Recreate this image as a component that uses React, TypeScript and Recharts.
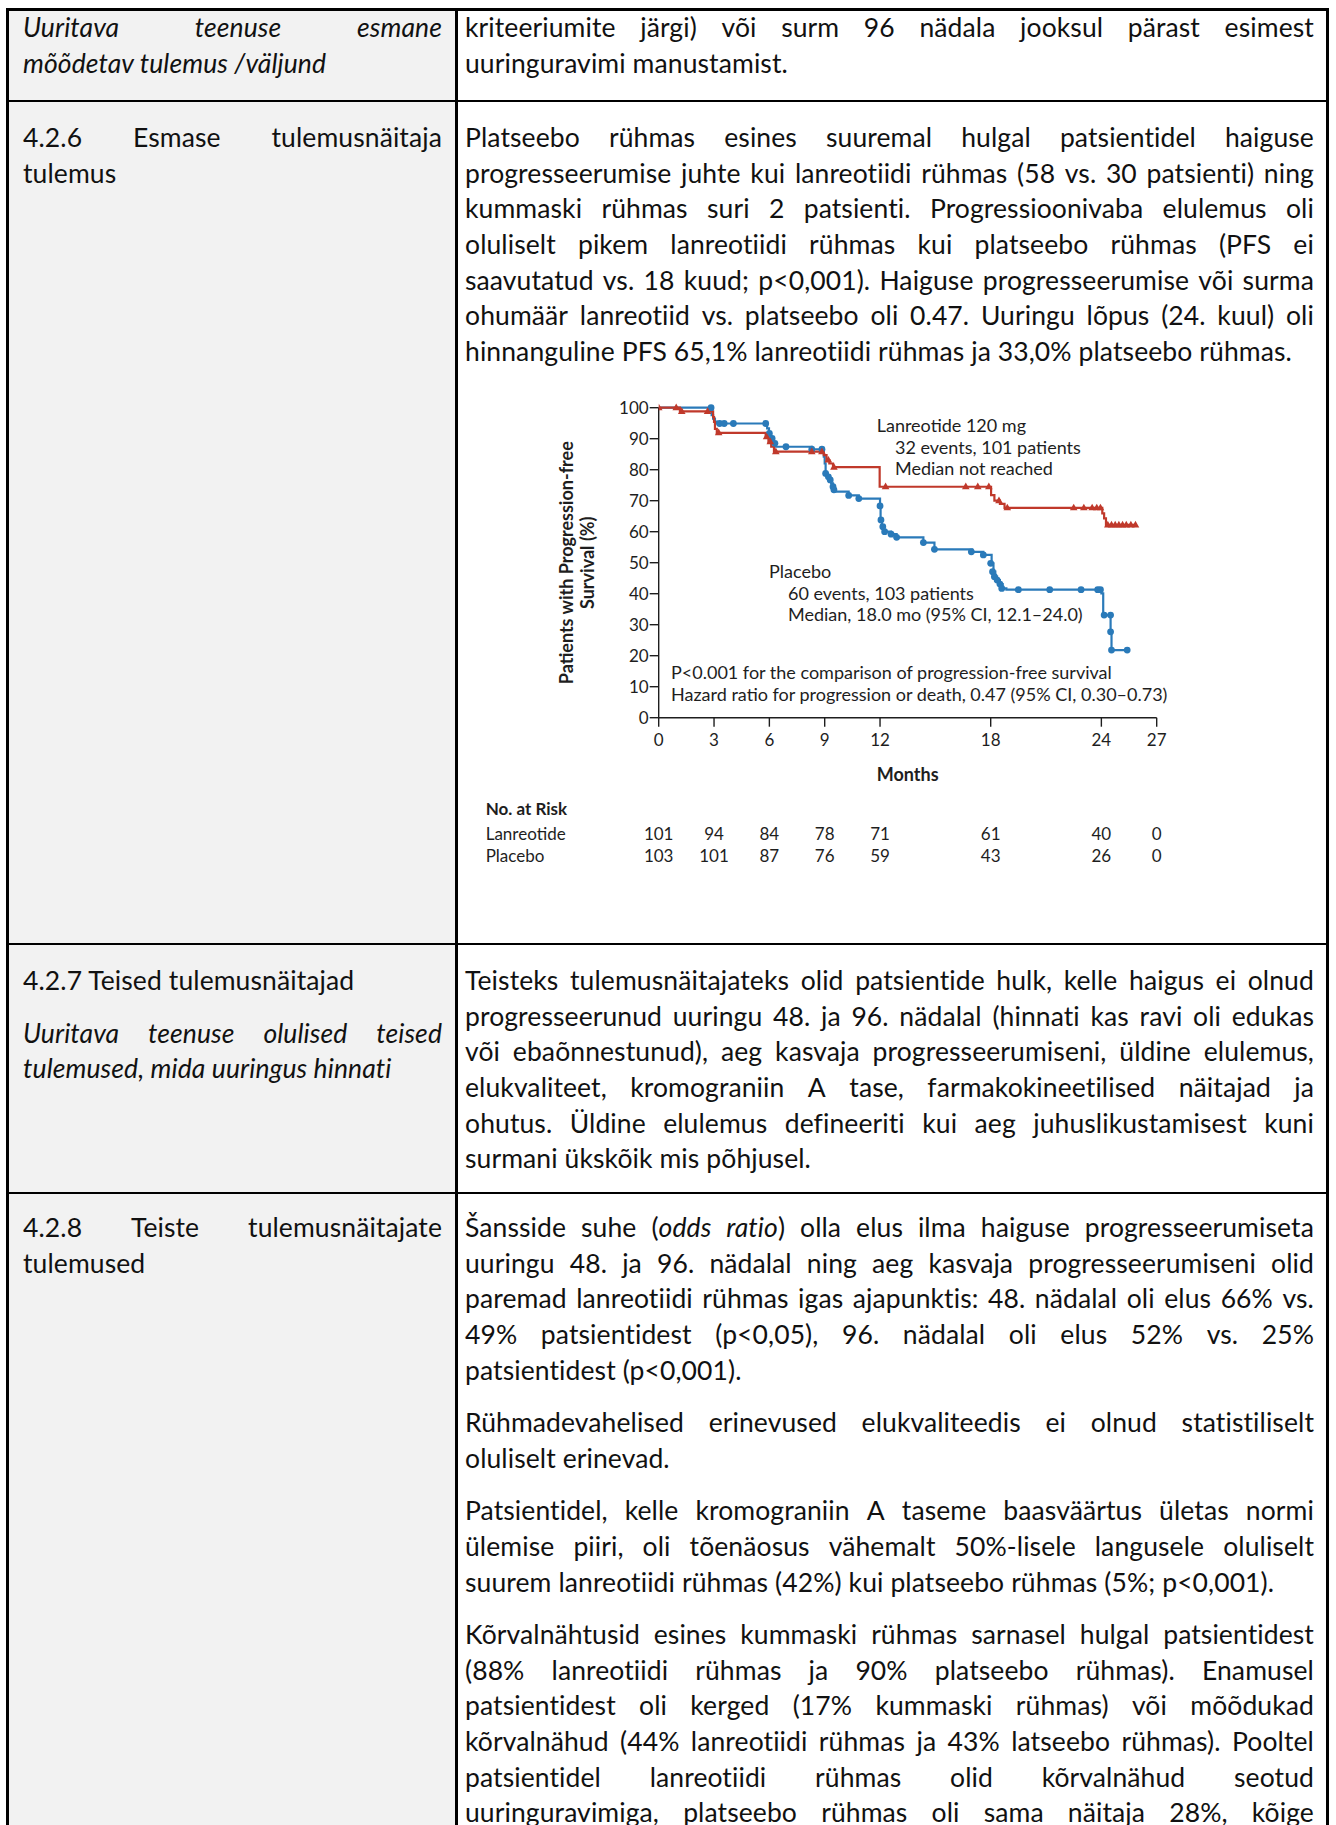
import React from 'react';
import { ComposedChart, Line, Scatter, XAxis, YAxis } from 'recharts';

// ---- chart data ----
const monthTicks = [0, 3, 6, 9, 12, 18, 24, 27];
const pctTicks = [0, 10, 20, 30, 40, 50, 60, 70, 80, 90, 100];
const lanRisk = [101, 94, 84, 78, 71, 61, 40, 0];
const plaRisk = [103, 101, 87, 76, 59, 43, 26, 0];

const lanSteps = [
  { t: 0, s: 100 }, { t: 1.15, s: 98.8 }, { t: 2.95, s: 97.0 }, { t: 3.0, s: 95.4 },
  { t: 3.05, s: 93.2 }, { t: 3.15, s: 91.9 }, { t: 5.8, s: 90.6 }, { t: 5.95, s: 89.0 },
  { t: 6.1, s: 87.4 }, { t: 6.25, s: 85.8 }, { t: 8.95, s: 84.7 }, { t: 9.1, s: 83.1 },
  { t: 9.25, s: 82.0 }, { t: 9.45, s: 80.8 }, { t: 11.98, s: 74.5 }, { t: 18.02, s: 71.8 },
  { t: 18.2, s: 70.0 }, { t: 18.5, s: 69.0 }, { t: 18.75, s: 67.7 }, { t: 24.05, s: 65.9 },
  { t: 24.15, s: 64.3 }, { t: 24.25, s: 62.2 }, { t: 25.9, s: 62.2 },
];

const plaSteps = [
  { t: 0, s: 100 }, { t: 2.87, s: 97.6 }, { t: 2.95, s: 96.5 }, { t: 3.05, s: 95.5 },
  { t: 3.15, s: 94.9 }, { t: 5.88, s: 93.3 }, { t: 5.98, s: 91.7 }, { t: 6.08, s: 90.1 },
  { t: 6.2, s: 88.5 }, { t: 6.35, s: 87.4 }, { t: 8.3, s: 86.6 }, { t: 8.95, s: 84.2 },
  { t: 9.0, s: 82.0 }, { t: 9.05, s: 78.8 }, { t: 9.15, s: 77.7 }, { t: 9.25, s: 76.7 },
  { t: 9.35, s: 75.6 }, { t: 9.45, s: 74.5 }, { t: 9.55, s: 72.9 }, { t: 10.3, s: 71.7 },
  { t: 10.85, s: 70.7 }, { t: 12.0, s: 68.3 }, { t: 12.03, s: 63.8 }, { t: 12.1, s: 61.6 },
  { t: 12.2, s: 60.0 }, { t: 12.6, s: 59.2 }, { t: 12.9, s: 58.2 }, { t: 14.35, s: 56.5 },
  { t: 14.95, s: 54.3 }, { t: 17.0, s: 53.5 }, { t: 17.6, s: 52.5 }, { t: 18.05, s: 49.8 },
  { t: 18.15, s: 47.1 }, { t: 18.25, s: 45.5 }, { t: 18.35, s: 44.4 }, { t: 18.5, s: 43.1 },
  { t: 18.65, s: 41.7 }, { t: 18.85, s: 41.3 }, { t: 24.0, s: 40.1 }, { t: 24.1, s: 33.1 },
  { t: 24.5, s: 27.7 }, { t: 24.55, s: 21.8 }, { t: 25.4, s: 21.8 },
];

const lanCensored = [
  { t: 0, s: 100 }, { t: 0.95, s: 100 }, { t: 1.25, s: 98.8 }, { t: 2.65, s: 98.8 },
  { t: 3.25, s: 91.9 }, { t: 5.85, s: 90.6 }, { t: 6.05, s: 89.0 }, { t: 6.35, s: 85.8 },
  { t: 8.3, s: 85.8 }, { t: 8.85, s: 85.8 }, { t: 9.2, s: 83.1 }, { t: 9.5, s: 80.8 },
  { t: 12.3, s: 74.5 }, { t: 16.65, s: 74.5 }, { t: 17.3, s: 74.5 }, { t: 17.9, s: 74.5 },
  { t: 18.45, s: 70.0 }, { t: 18.9, s: 67.7 }, { t: 22.5, s: 67.7 }, { t: 23.05, s: 67.7 },
  { t: 23.5, s: 67.7 }, { t: 23.75, s: 67.7 }, { t: 23.95, s: 67.7 }, { t: 24.35, s: 62.2 },
  { t: 24.55, s: 62.2 }, { t: 24.75, s: 62.2 }, { t: 24.95, s: 62.2 }, { t: 25.15, s: 62.2 },
  { t: 25.35, s: 62.2 }, { t: 25.6, s: 62.2 }, { t: 25.85, s: 62.2 },
];

const plaCensored = [
  { t: 2.84, s: 100 }, { t: 3.3, s: 94.9 }, { t: 3.55, s: 94.9 }, { t: 4.05, s: 94.9 },
  { t: 5.8, s: 94.9 }, { t: 6.0, s: 91.7 }, { t: 6.15, s: 90.1 }, { t: 6.3, s: 88.5 },
  { t: 6.9, s: 87.4 }, { t: 8.3, s: 86.6 }, { t: 8.85, s: 86.6 }, { t: 9.05, s: 78.8 },
  { t: 9.2, s: 77.7 }, { t: 9.3, s: 76.7 }, { t: 9.45, s: 74.5 }, { t: 9.5, s: 73.5 },
  { t: 10.3, s: 71.7 }, { t: 10.85, s: 70.7 }, { t: 12.0, s: 68.3 }, { t: 12.05, s: 63.8 },
  { t: 12.15, s: 61.6 }, { t: 12.25, s: 60.0 }, { t: 12.6, s: 59.2 }, { t: 12.9, s: 58.2 },
  { t: 14.35, s: 56.5 }, { t: 14.95, s: 54.3 }, { t: 16.95, s: 53.5 }, { t: 17.6, s: 52.5 },
  { t: 18.0, s: 49.8 }, { t: 18.1, s: 47.1 }, { t: 18.2, s: 45.5 }, { t: 18.35, s: 44.4 },
  { t: 18.5, s: 43.1 }, { t: 18.6, s: 41.7 }, { t: 19.5, s: 41.3 }, { t: 21.2, s: 41.3 },
  { t: 22.9, s: 41.3 }, { t: 23.8, s: 41.3 }, { t: 23.95, s: 41.3 }, { t: 24.15, s: 33.1 },
  { t: 24.5, s: 33.1 }, { t: 24.5, s: 27.7 }, { t: 24.55, s: 21.8 }, { t: 25.4, s: 21.8 },
];

const lanLegend = ['Lanreotide 120 mg', '32 events, 101 patients', 'Median not reached'];
const plaLegend = ['Placebo', '60 events, 103 patients', 'Median, 18.0 mo (95% CI, 12.1\u201324.0)'];
const statsNote = [
  'P<0.001 for the comparison of progression-free survival',
  'Hazard ratio for progression or death, 0.47 (95% CI, 0.30\u20130.73)',
];

// ---- document text, one entry per printed line ----
// a line wrapped in |...| is set in italics; _word_ italicises a single word
const row1Left = ['|Uuritava teenuse esmane|', '|mõõdetav tulemus /väljund|'];
const row1Right = ['kriteeriumite järgi) või surm 96 nädala jooksul pärast esimest', 'uuringuravimi manustamist.'];
const row2Left = ['4.2.6 Esmase tulemusnäitaja', 'tulemus'];
const row2Right = [
  'Platseebo rühmas esines suuremal hulgal patsientidel haiguse',
  'progresseerumise juhte kui lanreotiidi rühmas (58 vs. 30 patsienti) ning',
  'kummaski rühmas suri 2 patsienti. Progressioonivaba elulemus oli',
  'oluliselt pikem lanreotiidi rühmas kui platseebo rühmas (PFS ei',
  'saavutatud vs. 18 kuud; p<0,001). Haiguse progresseerumise või surma',
  'ohumäär lanreotiid vs. platseebo oli 0.47. Uuringu lõpus (24. kuul) oli',
  'hinnanguline PFS 65,1% lanreotiidi rühmas ja 33,0% platseebo rühmas.',
];
const row3Heading = ['4.2.7 Teised tulemusnäitajad'];
const row3Left = ['|Uuritava teenuse olulised teised|', '|tulemused, mida uuringus hinnati|'];
const row3Right = [
  'Teisteks tulemusnäitajateks olid patsientide hulk, kelle haigus ei olnud',
  'progresseerunud uuringu 48. ja 96. nädalal (hinnati kas ravi oli edukas',
  'või ebaõnnestunud), aeg kasvaja progresseerumiseni, üldine elulemus,',
  'elukvaliteet, kromograniin A tase, farmakokineetilised näitajad ja',
  'ohutus. Üldine elulemus defineeriti kui aeg juhuslikustamisest kuni',
  'surmani ükskõik mis põhjusel.',
];
const row4Left = ['4.2.8 Teiste tulemusnäitajate', 'tulemused'];
const row4Paras = [
  [
    'Šansside suhe (_odds_ _ratio_) olla elus ilma haiguse progresseerumiseta',
    'uuringu 48. ja 96. nädalal ning aeg kasvaja progresseerumiseni olid',
    'paremad lanreotiidi rühmas igas ajapunktis: 48. nädalal oli elus 66% vs.',
    '49% patsientidest (p<0,05), 96. nädalal oli elus 52% vs. 25%',
    'patsientidest (p<0,001).',
  ],
  ['Rühmadevahelised erinevused elukvaliteedis ei olnud statistiliselt', 'oluliselt erinevad.'],
  [
    'Patsientidel, kelle kromograniin A taseme baasväärtus ületas normi',
    'ülemise piiri, oli tõenäosus vähemalt 50%-lisele langusele oluliselt',
    'suurem lanreotiidi rühmas (42%)  kui platseebo rühmas (5%; p<0,001).',
  ],
  [
    'Kõrvalnähtusid esines kummaski rühmas sarnasel hulgal patsientidest',
    '(88% lanreotiidi rühmas ja 90%  platseebo rühmas). Enamusel',
    'patsientidest oli kerged (17% kummaski rühmas) või mõõdukad',
    'kõrvalnähud (44% lanreotiidi rühmas ja 43% latseebo rühmas). Pooltel',
    'patsientidel lanreotiidi rühmas olid kõrvalnähud seotud',
    'uuringuravimiga, platseebo rühmas oli sama näitaja 28%, kõige',
  ],
];

const RED = '#c0392b';
const BLUE = '#2a7ab9';
const INK = '#1e1e1e';
const CHART_FONT = 'Lato, "Open Sans", sans-serif';
const DOC_FONT = 'Lato, "Open Sans", sans-serif';
const LH = 35.6;
const GAP = 17;

function Word({ w }: { w: string }) {
  const parts = w.split('_');
  return (
    <span>
      {parts.map((p, i) => (i % 2 === 1 ? <i key={i}>{p}</i> : <React.Fragment key={i}>{p}</React.Fragment>))}
    </span>
  );
}

function TextLine({ text, left, width, cy, justify }: { text: string; left: number; width: number; cy: number; justify: boolean }) {
  const italic = text.startsWith('|') && text.endsWith('|');
  const words = (italic ? text.slice(1, -1) : text).split(/\s+/);
  const base: React.CSSProperties = {
    position: 'absolute', left, width, top: cy - LH / 2, height: LH, lineHeight: `${LH}px`,
    fontFamily: DOC_FONT, fontSize: 26.5, letterSpacing: 0.1, color: '#111', whiteSpace: 'nowrap',
    fontStyle: italic ? 'italic' : 'normal',
  };
  if (justify) {
    return (
      <div style={{ ...base, display: 'flex', justifyContent: 'space-between' }}>
        {words.map((w, i) => <Word key={i} w={w} />)}
      </div>
    );
  }
  return (
    <div style={base}>
      {words.map((w, i) => (
        <React.Fragment key={i}>{i > 0 ? ' ' : ''}<Word w={w} /></React.Fragment>
      ))}
    </div>
  );
}

// a paragraph: every line justified except the last
function Para({ lines, left, width, cy, justifyLast = false }: { lines: string[]; left: number; width: number; cy: number; justifyLast?: boolean }) {
  return (
    <>
      {lines.map((l, i) => (
        <TextLine key={i} text={l} left={left} width={width} cy={cy + i * LH} justify={i < lines.length - 1 || justifyLast} />
      ))}
    </>
  );
}

function Triangle(props: any) {
  const { cx, cy } = props;
  return <path d={`M${cx},${cy - 4.2} L${cx + 3.8},${cy + 2.5} L${cx - 3.8},${cy + 2.5} Z`} fill={RED} />;
}

function Dot(props: any) {
  const { cx, cy } = props;
  return <circle cx={cx} cy={cy} r={3.4} fill={BLUE} />;
}

function MonthTick(props: any) {
  const { x, y, payload } = props;
  const i = monthTicks.indexOf(payload.value);
  return (
    <g fontFamily={CHART_FONT} fontSize={17} fill={INK}>
      <text x={x} y={y + 13} textAnchor="middle" dominantBaseline="central">{payload.value}</text>
      <text x={x} y={y + 106.5} textAnchor="middle" dominantBaseline="central">{lanRisk[i]}</text>
      <text x={x} y={y + 128.5} textAnchor="middle" dominantBaseline="central">{plaRisk[i]}</text>
    </g>
  );
}

function XCaption(props: any) {
  const { x, y, width } = props.viewBox;
  const lx = x - 173;
  return (
    <g fontFamily={CHART_FONT} fill={INK}>
      <text x={x + width / 2} y={y + 56} textAnchor="middle" dominantBaseline="central" fontSize={18} fontWeight={700}>Months</text>
      <text x={lx} y={y + 91} dominantBaseline="central" fontSize={17} fontWeight={700}>No. at Risk</text>
      <text x={lx} y={y + 115.5} dominantBaseline="central" fontSize={17}>Lanreotide</text>
      <text x={lx} y={y + 137.5} dominantBaseline="central" fontSize={17}>Placebo</text>
    </g>
  );
}

function YCaption(props: any) {
  const { x, y, height } = props.viewBox;
  const cy = y + height / 2;
  const x1 = x - 33;
  const x2 = x - 12;
  return (
    <g fontFamily={CHART_FONT} fill={INK} fontSize={18} fontWeight={700}>
      <text x={x1} y={cy} transform={`rotate(-90, ${x1}, ${cy})`} textAnchor="middle" dominantBaseline="central">Patients with Progression-free</text>
      <text x={x2} y={cy} transform={`rotate(-90, ${x2}, ${cy})`} textAnchor="middle" dominantBaseline="central">Survival (%)</text>
    </g>
  );
}

function Note({ lines, left, top, indent }: { lines: string[]; left: number; top: number; indent: number[] }) {
  return (
    <>
      {lines.map((l, i) => (
        <div key={i} style={{
          position: 'absolute', left: left + indent[i], top: top + i * 21.7 - 11, height: 22, lineHeight: '22px',
          fontFamily: CHART_FONT, fontSize: 18, color: INK, whiteSpace: 'nowrap',
        }}>{l}</div>
      ))}
    </>
  );
}

const CH_LEFT = 470;
const CH_TOP = 380;

function KMChart() {
  return (
    <div style={{ position: 'absolute', left: CH_LEFT, top: CH_TOP, width: 720, height: 520 }}>
      <ComposedChart width={720} height={520} margin={{ top: 27.7, right: 33.3, bottom: 12.3, left: 128.7 }}>
        <XAxis
          type="number" dataKey="t" domain={[0, 27]} ticks={monthTicks} interval={0} allowDataOverflow
          height={170} tickSize={9} tickMargin={0} tick={<MonthTick />}
          axisLine={{ stroke: INK, strokeWidth: 1.4 }} tickLine={{ stroke: INK, strokeWidth: 1.4 }}
          label={{ content: <XCaption /> } as any}
        />
        <YAxis
          type="number" domain={[0, 100]} ticks={pctTicks} interval={0} width={60}
          tickSize={9} tickMargin={1}
          tick={{ fontSize: 17, fill: INK, fontFamily: CHART_FONT }}
          axisLine={{ stroke: INK, strokeWidth: 1.4 }} tickLine={{ stroke: INK, strokeWidth: 1.4 }}
          label={{ content: <YCaption /> } as any}
        />
        <Line data={plaSteps} dataKey="s" type="stepAfter" stroke={BLUE} strokeWidth={2.2} dot={false} isAnimationActive={false} />
        <Line data={lanSteps} dataKey="s" type="stepAfter" stroke={RED} strokeWidth={2.2} dot={false} isAnimationActive={false} />
        <Scatter data={plaCensored} dataKey="s" shape={<Dot />} isAnimationActive={false} />
        <Scatter data={lanCensored} dataKey="s" shape={<Triangle />} isAnimationActive={false} />
      </ComposedChart>
      <Note lines={lanLegend} left={876.7 - CH_LEFT} top={425 - CH_TOP} indent={[0, 18.3, 18.3]} />
      <Note lines={plaLegend} left={769 - CH_LEFT} top={571 - CH_TOP} indent={[0, 19, 19]} />
      <Note lines={statsNote} left={671 - CH_LEFT} top={672 - CH_TOP} indent={[0, 0]} />
    </div>
  );
}

const L_X = 23;
const L_W = 419;
const R_X = 465;
const R_W = 849;

function HLine({ y }: { y: number }) {
  return <div style={{ position: 'absolute', left: 6, width: 1323, top: y - 1.25, height: 2.5, background: '#000' }} />;
}
function VLine({ x, top }: { x: number; top: number }) {
  return <div style={{ position: 'absolute', left: x - 1.25, width: 2.5, top, bottom: 0, background: '#000' }} />;
}

export default function App() {
  const r4 = 1228;
  const p2 = r4 + 5 * LH + GAP;
  const p3 = p2 + 2 * LH + GAP;
  const p4 = p3 + 3 * LH + GAP;
  return (
    <div style={{ position: 'relative', width: 1336, height: 1825, overflow: 'hidden', background: '#fff' }}>
      <style>{'body{margin:0}'}</style>
      <div style={{ position: 'absolute', left: 8, top: 10, width: 447, bottom: 0, background: '#f2f2f2' }} />
      <HLine y={9.3} />
      <HLine y={101} />
      <HLine y={944} />
      <HLine y={1193} />
      <VLine x={7.3} top={8} />
      <VLine x={456.3} top={8} />
      <VLine x={1327.3} top={8} />

      <Para lines={row1Left} left={L_X} width={L_W} cy={28} />
      <Para lines={row1Right} left={R_X} width={R_W} cy={28} />

      <Para lines={row2Left} left={L_X} width={L_W} cy={138} />
      <Para lines={row2Right} left={R_X} width={R_W} cy={138} />
      <KMChart />

      <Para lines={row3Heading} left={L_X} width={L_W} cy={981} />
      <Para lines={row3Left} left={L_X} width={L_W} cy={981 + LH + GAP} />
      <Para lines={row3Right} left={R_X} width={R_W} cy={981} />

      <Para lines={row4Left} left={L_X} width={L_W} cy={r4} />
      <Para lines={row4Paras[0]} left={R_X} width={R_W} cy={r4} />
      <Para lines={row4Paras[1]} left={R_X} width={R_W} cy={p2} />
      <Para lines={row4Paras[2]} left={R_X} width={R_W} cy={p3} />
      <Para lines={row4Paras[3]} left={R_X} width={R_W} cy={p4} justifyLast />
    </div>
  );
}
